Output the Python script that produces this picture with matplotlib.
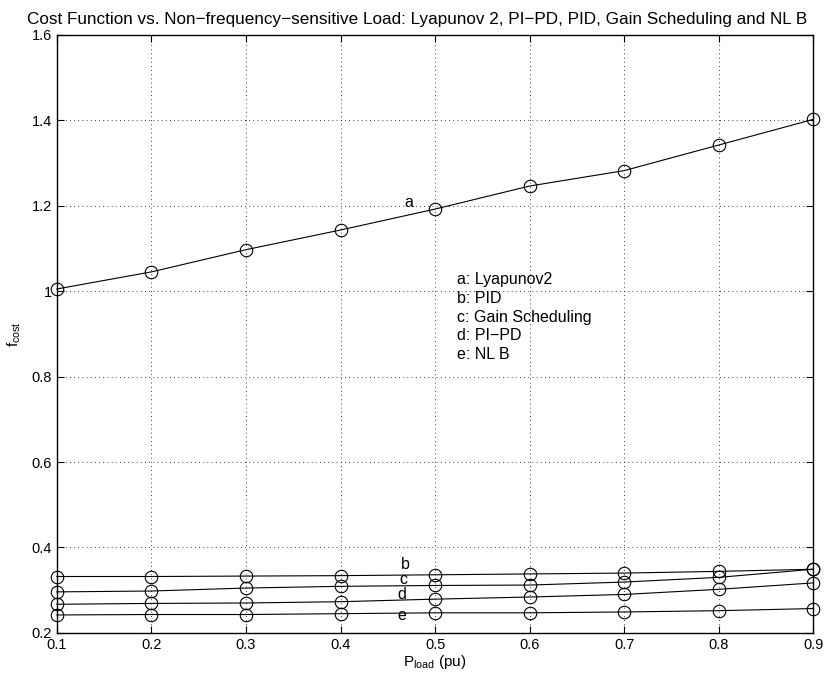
import matplotlib
matplotlib.use('Agg')
import matplotlib.pyplot as plt

plt.rcParams['font.family'] = ['Liberation Sans', 'DejaVu Sans']
plt.rcParams['mathtext.default'] = 'regular'

# data
p_load = [0.1, 0.2, 0.3, 0.4, 0.5, 0.6, 0.7, 0.8, 0.9]
lyap2 = [1.005, 1.045, 1.097, 1.143, 1.192, 1.246, 1.282, 1.342, 1.402]
pid = [0.332, 0.332, 0.333, 0.334, 0.336, 0.338, 0.340, 0.344, 0.349]
gain_sched = [0.296, 0.298, 0.305, 0.309, 0.311, 0.312, 0.319, 0.330, 0.349]
pi_pd = [0.267, 0.269, 0.270, 0.273, 0.279, 0.284, 0.290, 0.302, 0.317]
nl_b = [0.242, 0.243, 0.243, 0.245, 0.247, 0.247, 0.249, 0.252, 0.257]

curves = [lyap2, pid, gain_sched, pi_pd, nl_b]
letters = ['a', 'b', 'c', 'd', 'e']
letter_pos = [(0.472, 1.207), (0.469, 0.360), (0.467, 0.325), (0.465, 0.290), (0.465, 0.240)]
legend_lines = ['a: Lyapunov2', 'b: PID', 'c: Gain Scheduling', 'd: PI\u2212PD', 'e: NL B']

fig = plt.figure(figsize=(8.24, 6.82), dpi=100)
ax = fig.add_axes([0.069, 0.072, 0.918, 0.877])

for y in curves:
    ax.plot(p_load, y, color='black', lw=0.8, marker='o', markersize=9,
            markerfacecolor='none', markeredgecolor='black', markeredgewidth=0.8,
            clip_on=False, zorder=3)

for lab, (x, y) in zip(letters, letter_pos):
    ax.text(x, y, lab, fontsize=11.5, ha='center', va='center')

ax.text(0.523, 1.045, '\n'.join(legend_lines), fontsize=11.5, va='top', ha='left',
        linespacing=1.32)

ax.set_xlim(0.1, 0.9)
ax.set_ylim(0.2, 1.6)
ax.set_xticks(p_load)
ax.set_xticklabels(['0.1', '0.2', '0.3', '0.4', '0.5', '0.6', '0.7', '0.8', '0.9'])
ax.set_yticks([0.2, 0.4, 0.6, 0.8, 1.0, 1.2, 1.4, 1.6])
ax.set_yticklabels(['0.2', '0.4', '0.6', '0.8', '1', '1.2', '1.4', '1.6'])
ax.grid(True, linestyle=(0, (1, 4)), color='black', lw=0.6)
ax.tick_params(direction='in', top=True, right=True, labelsize=10.5, length=5)
for s in ax.spines.values():
    s.set_linewidth(1.0)

ax.set_xlabel(r'P$_{load}$ (pu)', fontsize=11, labelpad=1)
ax.set_ylabel(r'f$_{cost}$', fontsize=11, labelpad=6)
fig.text(0.506, 0.972,
         'Cost Function vs. Non\u2212frequency\u2212sensitive Load: Lyapunov 2, PI\u2212PD, PID, Gain Scheduling and NL B',
         fontsize=12.3, ha='center', va='center')

fig.savefig('out.png', dpi=100)
